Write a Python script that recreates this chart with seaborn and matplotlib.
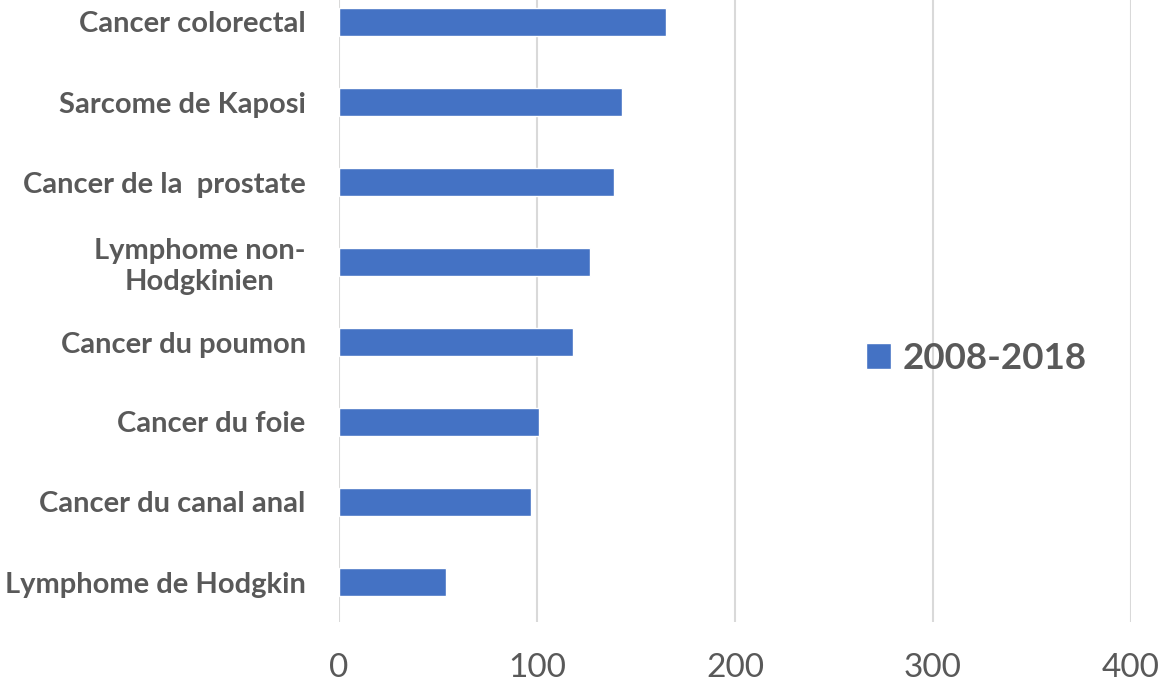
import matplotlib
matplotlib.use("Agg")
import matplotlib.pyplot as plt
import seaborn as sns
import pandas as pd

categories = [
    "Cancer colorectal",
    "Sarcome de Kaposi",
    "Cancer de la  prostate",
    "Lymphome non-\nHodgkinien",
    "Cancer du poumon",
    "Cancer du foie",
    "Cancer du canal anal",
    "Lymphome de Hodgkin",
]
values = [165, 143, 139, 127, 118, 101, 97, 54]
series_name = "2008-2018"

df = pd.DataFrame({"cat": categories, "val": values, "serie": series_name})

sns.set_theme(style="white")
plt.rcParams["font.family"] = ["Lato", "DejaVu Sans"]

text_color = "#595959"
bar_color = "#4472C4"

fig = plt.figure(figsize=(11.65, 6.89), dpi=100)
ax = fig.add_axes([339 / 1165, 1 - 622 / 689, (1131 - 339) / 1165, 640 / 689])

sns.barplot(data=df, y="cat", x="val", hue="serie", palette=[bar_color],
            saturation=1, orient="h", width=0.34, ax=ax, zorder=3)

ax.set_xlim(0, 400)
ax.set_xticks([0, 100, 200, 300, 400])
ax.xaxis.grid(True, color="#D9D9D9", linewidth=1.5, zorder=0)
ax.set_axisbelow(True)
for s in ax.spines.values():
    s.set_visible(False)

ax.set_xlabel("")
ax.set_ylabel("")
ax.tick_params(axis="x", length=0, pad=22, labelsize=24, labelcolor=text_color)
ax.tick_params(axis="y", length=0, pad=24, labelsize=21, labelcolor=text_color)
for lbl in ax.get_yticklabels():
    lbl.set_fontweight("bold")
    lbl.set_multialignment("center")

leg = ax.legend(loc="center left", bbox_to_anchor=(0.623, 0.412), frameon=False,
                prop={"weight": "bold", "size": 26.5}, handlelength=0.7,
                handleheight=0.7, handletextpad=0.3)
for t in leg.get_texts():
    t.set_color(text_color)

fig.savefig("out.png", dpi=100)
